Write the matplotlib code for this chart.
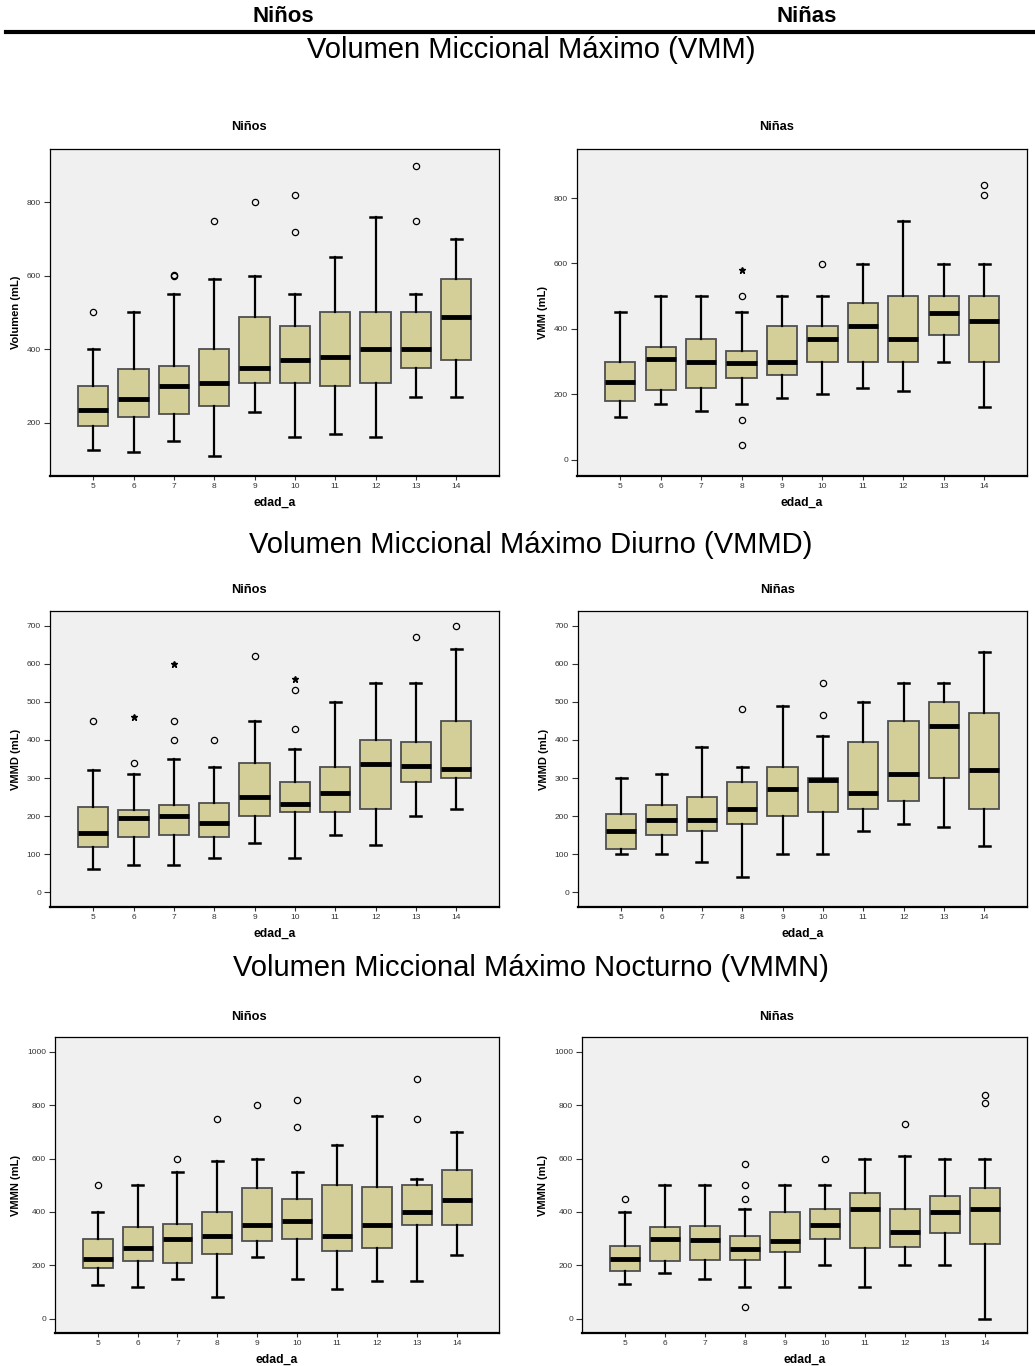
import matplotlib
matplotlib.use("Agg")
import matplotlib.pyplot as plt

plt.rcParams['font.family'] = ['Liberation Sans', 'DejaVu Sans']

edades = [5, 6, 7, 8, 9, 10, 11, 12, 13, 14]

# (bigote inf, Q1, mediana, Q3, bigote sup) por edad
vmm_ninos = [(125, 190, 235, 300, 400), (120, 215, 265, 345, 500), (150, 225, 300, 355, 550),
             (110, 245, 309, 400, 590), (229, 309, 350, 489, 600), (160, 309, 370, 464, 550),
             (170, 300, 380, 500, 650), (160, 309, 400, 500, 760), (270, 350, 400, 500, 550),
             (270, 370, 487, 590, 700)]
vmm_ninos_out = [[500], [], [600, 601], [750], [800], [720, 820], [], [], [750, 900], []]
vmm_ninos_ext = [[], [], [], [], [], [], [], [], [], []]

vmm_ninas = [(131, 180, 236, 300, 450), (169, 214, 309, 345, 499), (150, 220, 300, 369, 499),
             (169, 250, 295, 331, 450), (190, 260, 300, 409, 499), (200, 300, 369, 409, 499),
             (220, 300, 409, 480, 599), (209, 300, 369, 499, 729), (300, 380, 449, 499, 599),
             (160, 300, 424, 499, 599)]
vmm_ninas_out = [[], [], [], [45, 120, 499], [], [599], [], [], [], [809, 839]]
vmm_ninas_ext = [[], [], [], [580], [], [], [], [], [], []]

vmmd_ninos = [(60, 118, 156, 225, 320), (71, 145, 195, 215, 311), (71, 150, 200, 230, 350),
              (90, 145, 183, 235, 330), (130, 200, 250, 340, 450), (90, 210, 231, 290, 375),
              (150, 210, 261, 330, 500), (125, 220, 336, 400, 550), (200, 290, 331, 395, 550),
              (220, 300, 325, 450, 640)]
vmmd_ninos_out = [[450], [340], [400, 450], [400], [620], [430, 530], [], [], [670], [700]]
vmmd_ninos_ext = [[], [460], [600], [], [], [560], [], [], [], []]

vmmd_ninas = [(100, 115, 161, 205, 300), (100, 150, 190, 230, 311), (80, 161, 190, 250, 381),
              (40, 180, 220, 290, 330), (100, 200, 270, 330, 490), (100, 210, 296, 300, 410),
              (161, 220, 261, 395, 500), (180, 240, 311, 450, 550), (171, 300, 436, 500, 550),
              (121, 220, 320, 470, 630)]
vmmd_ninas_out = [[], [], [], [480], [], [465, 550], [], [], [], []]
vmmd_ninas_ext = [[], [], [], [], [], [], [], [], [], []]

vmmn_ninos = [(125, 190, 225, 300, 400), (120, 215, 265, 344, 500), (150, 210, 300, 355, 550),
              (80, 244, 310, 400, 590), (230, 290, 350, 490, 600), (150, 300, 365, 450, 550),
              (110, 252, 310, 500, 650), (140, 265, 350, 495, 760), (140, 350, 400, 500, 525),
              (240, 350, 445, 559, 700)]
vmmn_ninos_out = [[500], [], [600], [750], [800], [720, 820], [], [], [750, 900], []]
vmmn_ninos_ext = [[], [], [], [], [], [], [], [], [], []]

vmmn_ninas = [(130, 180, 225, 274, 400), (170, 215, 300, 344, 500), (150, 220, 295, 349, 500),
              (120, 220, 260, 310, 410), (120, 250, 290, 400, 500), (200, 300, 350, 410, 500),
              (120, 265, 410, 470, 600), (200, 270, 325, 410, 610), (200, 320, 400, 460, 600),
              (0, 280, 410, 490, 600)]
vmmn_ninas_out = [[450], [], [], [45, 450, 500, 580], [], [600], [], [730], [], [810, 840]]
vmmn_ninas_ext = [[], [], [], [], [], [], [], [], [], []]

W, H = 1035, 1366
fig = plt.figure(figsize=(W / 100, H / 100), dpi=100)

caja_color = "#d4cf98"
fondo = "#f0f0f0"


def panel(px, titulo, tpos, ylabel, stats, out, ext, ylim, yticks):
    l, r, t, b = px
    ax = fig.add_axes([l / W, 1 - b / H, (r - l) / W, (b - t) / H])
    ax.set_facecolor(fondo)
    pos = list(range(len(edades)))
    datos = []
    for (lo, q1, med, q3, hi), o in zip(stats, out):
        datos.append(dict(whislo=lo, q1=q1, med=med, q3=q3, whishi=hi, fliers=o))
    ax.bxp(datos, positions=pos, widths=0.75, patch_artist=True, showfliers=True,
           boxprops=dict(facecolor=caja_color, edgecolor="#505050", linewidth=1.3),
           medianprops=dict(color="black", linewidth=3.5, solid_capstyle="butt"),
           whiskerprops=dict(color="black", linewidth=1.6),
           capprops=dict(color="black", linewidth=1.8),
           capwidths=0.27,
           flierprops=dict(marker="o", markersize=4.5, markerfacecolor="none",
                           markeredgecolor="black", markeredgewidth=0.9))
    for p, e in zip(pos, ext):
        if e:
            ax.plot([p] * len(e), e, linestyle="none", marker="*", markersize=4.5,
                    color="black")
    ax.set_xlim(-1.07, 10.06)
    ax.set_ylim(*ylim)
    ax.set_yticks(yticks)
    ax.set_xticks(pos)
    ax.set_xticklabels([str(e) for e in edades])
    ax.tick_params(labelsize=6, length=4.5, width=0.8, colors="#333333", pad=2)
    ax.tick_params(axis="x", length=3)
    for s in ax.spines.values():
        s.set_color("black")
        s.set_linewidth(0.9)
    ax.spines["bottom"].set_linewidth(1.6)
    fig.text(tpos[0] / W, 1 - tpos[1] / H, titulo, ha="center", va="center",
             fontsize=9.3, fontweight="bold")
    ax.set_ylabel(ylabel, fontsize=8, fontweight="bold", labelpad=4)
    ax.set_xlabel("edad_a", fontsize=8.8, fontweight="bold", labelpad=5)
    return ax


panel((50, 499, 149, 476), "Niños", (249, 127), "Volumen (mL)",
      vmm_ninos, vmm_ninos_out, vmm_ninos_ext, (55, 945), [200, 400, 600, 800])
panel((577, 1027, 149, 476), "Niñas", (777, 127), "VMM (mL)",
      vmm_ninas, vmm_ninas_out, vmm_ninas_ext, (-50, 950), [0, 200, 400, 600, 800])
panel((50, 499, 611, 907), "Niños", (249, 590), "VMMD (mL)",
      vmmd_ninos, vmmd_ninos_out, vmmd_ninos_ext, (-38.5, 738.5),
      [0, 100, 200, 300, 400, 500, 600, 700])
panel((578, 1027, 611, 907), "Niñas", (778, 590), "VMMD (mL)",
      vmmd_ninas, vmmd_ninas_out, vmmd_ninas_ext, (-38.5, 738.5),
      [0, 100, 200, 300, 400, 500, 600, 700])
panel((55, 499, 1037, 1333), "Niños", (249, 1017), "VMMN (mL)",
      vmmn_ninos, vmmn_ninos_out, vmmn_ninos_ext, (-54, 1056), [0, 200, 400, 600, 800, 1000])
panel((582, 1027, 1037, 1333), "Niñas", (777, 1017), "VMMN (mL)",
      vmmn_ninas, vmmn_ninas_out, vmmn_ninas_ext, (-54, 1056), [0, 200, 400, 600, 800, 1000])

# encabezado y títulos de sección
fig.text(283 / W, 1 - 17 / H, "Niños", ha="center", va="center", fontsize=16, fontweight="bold")
fig.text(807 / W, 1 - 17 / H, "Niñas", ha="center", va="center", fontsize=16, fontweight="bold")
fig.add_artist(plt.Line2D([6 / W, 1.0], [1 - 32 / H, 1 - 32 / H], color="black", linewidth=3))
for y, t in [(50, "Volumen Miccional Máximo (VMM)"),
             (545, "Volumen Miccional Máximo Diurno (VMMD)"),
             (968, "Volumen Miccional Máximo Nocturno (VMMN)")]:
    fig.text(531 / W, 1 - y / H, t, ha="center", va="center", fontsize=21)

plt.savefig("out.png", dpi=100)
